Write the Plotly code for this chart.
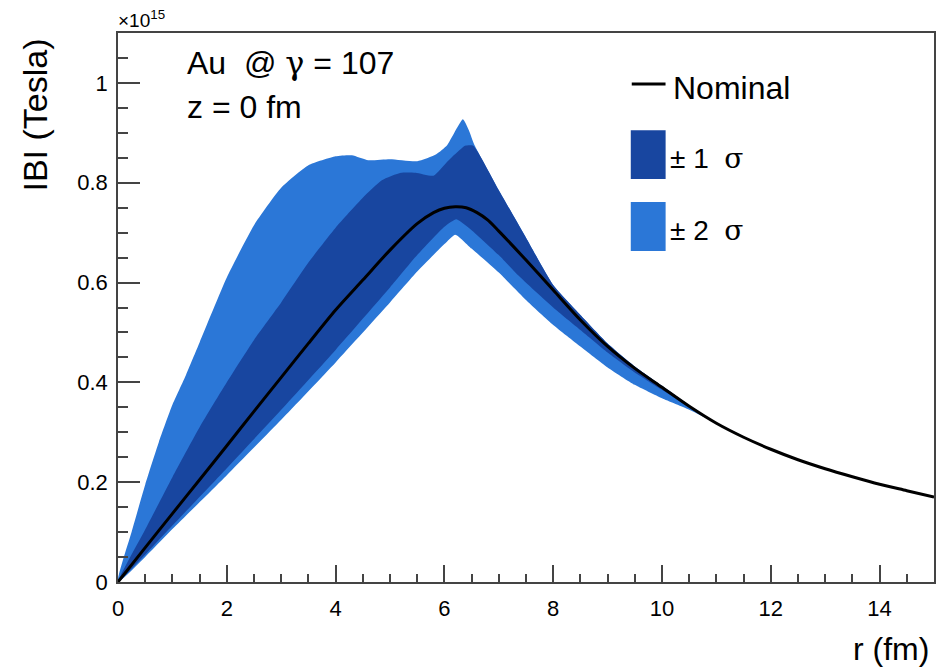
import plotly.graph_objects as go

# ---------------- data (|B| in units of 1e15 Tesla, r in fm) ----------------
r_nom = [0, 0.5, 1, 1.5, 2, 2.5, 3, 3.5, 4, 4.5, 5, 5.5, 5.8, 6.0, 6.2, 6.4, 6.6, 6.8,
         7.0, 7.5, 8, 8.5, 9, 9.5, 10, 10.5, 11, 11.5, 12, 12.5, 13, 13.5, 14, 14.5, 15]
b_nom = [0, 0.069, 0.137, 0.205, 0.273, 0.342, 0.41, 0.478, 0.545, 0.605, 0.665, 0.718,
         0.74, 0.749, 0.752, 0.750, 0.740, 0.725, 0.703, 0.645, 0.585, 0.525, 0.472,
         0.428, 0.39, 0.352, 0.318, 0.29, 0.266, 0.245, 0.227, 0.211, 0.196, 0.183, 0.17]

# +2 sigma (upper edge of light band)
r_up2 = [0, 0.25, 0.5, 0.75, 1.0, 1.25, 1.5, 2.0, 2.5, 3.0, 3.5, 4.0, 4.3, 4.6, 5.0,
         5.5, 5.85, 6.05, 6.34, 6.45, 6.55, 7.0, 7.5, 8.0, 8.5, 9.0, 9.5, 10, 10.5,
         11, 12, 13, 14, 15]
b_up2 = [0, 0.1, 0.195, 0.28, 0.355, 0.415, 0.48, 0.61, 0.715, 0.79, 0.835, 0.853,
         0.855, 0.845, 0.847, 0.843, 0.857, 0.875, 0.927, 0.905, 0.876, 0.785, 0.69,
         0.595, 0.535, 0.478, 0.432, 0.393, 0.354, 0.319, 0.266, 0.227, 0.196, 0.17]

# -2 sigma (lower edge of light band)
r_lo2 = [0, 1, 2, 3, 4, 5, 5.5, 6.0, 6.2, 6.5, 7.0, 7.5, 8.0, 8.5, 9.0, 9.5, 10,
         10.5, 11, 12, 13, 14, 15]
b_lo2 = [0, 0.106, 0.214, 0.325, 0.44, 0.56, 0.622, 0.677, 0.696, 0.668, 0.62, 0.565,
         0.515, 0.472, 0.43, 0.395, 0.368, 0.345, 0.318, 0.265, 0.227, 0.196, 0.17]

# +1 sigma (upper edge of dark band)
r_up1 = [0, 0.5, 1.0, 1.5, 2.0, 2.5, 3.0, 3.5, 4.0, 4.5, 4.85, 5.2, 5.47, 5.8, 6.07,
         6.38, 6.53, 7.0, 7.5, 8.0, 8.5, 9.0, 9.5, 10, 10.5, 11, 12, 13, 14, 15]
b_up1 = [0, 0.105, 0.21, 0.31, 0.40, 0.485, 0.56, 0.64, 0.71, 0.77, 0.805, 0.82, 0.82,
         0.814, 0.844, 0.874, 0.874, 0.785, 0.69, 0.595, 0.535, 0.478, 0.432, 0.393,
         0.354, 0.319, 0.266, 0.227, 0.196, 0.17]

# -1 sigma (lower edge of dark band)
r_lo1 = [0, 1, 2, 3, 4, 5, 5.5, 6.0, 6.22, 6.5, 7.0, 7.35, 8.0, 8.5, 9.0, 9.5, 10,
         10.5, 11, 12, 13, 14, 15]
b_lo1 = [0, 0.113, 0.228, 0.345, 0.465, 0.59, 0.655, 0.712, 0.727, 0.705, 0.655, 0.615,
         0.55, 0.505, 0.46, 0.42, 0.385, 0.35, 0.318, 0.265, 0.227, 0.196, 0.17]

x_ticks = [0, 2, 4, 6, 8, 10, 12, 14]
y_ticks = [0, 0.2, 0.4, 0.6, 0.8, 1.0]
y_ticklabels = ["0", "0.2", "0.4", "0.6", "0.8", "1"]

DARK = "#1846A0"
LIGHT = "#2B77D7"
FONT = "Liberation Sans, Arial, Helvetica, sans-serif"

fig = go.Figure()

# +-2 sigma band
fig.add_trace(go.Scatter(
    x=r_up2 + r_lo2[::-1], y=b_up2 + b_lo2[::-1],
    fill="toself", fillcolor=LIGHT, line=dict(width=0, color=LIGHT, shape="spline", smoothing=0.5),
    mode="lines", showlegend=False, hoverinfo="skip"))
# +-1 sigma band
fig.add_trace(go.Scatter(
    x=r_up1 + r_lo1[::-1], y=b_up1 + b_lo1[::-1],
    fill="toself", fillcolor=DARK, line=dict(width=0, color=DARK, shape="spline", smoothing=0.5),
    mode="lines", showlegend=False, hoverinfo="skip"))
# nominal
fig.add_trace(go.Scatter(
    x=r_nom, y=b_nom, mode="lines",
    line=dict(color="black", width=3, shape="spline", smoothing=0.8),
    showlegend=False))

axis_common = dict(
    showgrid=False, zeroline=False, showline=True, linecolor="#444", linewidth=1.5,
    mirror=True, ticks="inside", tickcolor="#444", tickwidth=1.5,
    tickfont=dict(family=FONT, size=22, color="black"),
)

fig.update_xaxes(
    range=[0, 15], tickvals=x_ticks, ticklen=17,
    minor=dict(dtick=0.5, ticks="inside", ticklen=8, tickcolor="#444", tickwidth=1.5),
    ticklabelstandoff=6,
    **axis_common)
fig.update_yaxes(
    range=[0, 1.1], tickvals=y_ticks, ticktext=y_ticklabels, ticklen=22,
    minor=dict(dtick=0.05, ticks="inside", ticklen=10, tickcolor="#444", tickwidth=1.5),
    ticklabelstandoff=4,
    **axis_common)

# legend drawn manually (ROOT-style)
shapes = [
    dict(type="line", xref="paper", yref="paper", x0=0.6296, x1=0.671, y0=0.907, y1=0.907,
         line=dict(color="black", width=3)),
    dict(type="rect", xref="paper", yref="paper", x0=0.6284, x1=0.6711, y0=0.734, y1=0.823,
         fillcolor=DARK, line=dict(width=0)),
    dict(type="rect", xref="paper", yref="paper", x0=0.6284, x1=0.6711, y0=0.603, y1=0.692,
         fillcolor=LIGHT, line=dict(width=0)),
]

GREEK = '<span style="font-family:DejaVu Serif">%s</span>'
ann = [
    ("Nominal", 0.678, 0.899, 32),
    ("±\u00a01\u00a0\u00a0" + GREEK % "σ", 0.674, 0.772, 28),
    ("±\u00a02\u00a0\u00a0" + GREEK % "σ", 0.674, 0.640, 28),
    ("Au\u00a0\u00a0@\u00a0" + GREEK % "γ" + "\u00a0=\u00a0107", 0.0819, 0.945, 32),
    ("z\u00a0=\u00a00\u00a0fm", 0.0819, 0.865, 32),
]
annotations = []
for text, ax, ay, size in ann:
    annotations.append(dict(
        text=text, x=ax, y=ay, xref="paper", yref="paper",
        xanchor="left", yanchor="middle", showarrow=False,
        font=dict(family=FONT, color="black", size=size)))

annotations += [
    dict(text="IBI (Tesla)", x=-0.1015, y=0.85, xref="paper", yref="paper",
         textangle=-90, xanchor="center", yanchor="middle", showarrow=False,
         font=dict(family=FONT, size=34, color="black")),
    dict(text="r (fm)", x=0.9963, y=-0.122, xref="paper", yref="paper",
         xanchor="right", yanchor="middle", showarrow=False,
         font=dict(family=FONT, size=32, color="black")),
    dict(text="×10<sup>15</sup>", x=-0.002, y=1.0, xref="paper", yref="paper",
         xanchor="left", yanchor="bottom", showarrow=False,
         font=dict(family=FONT, size=19, color="black")),
]

fig.update_layout(
    width=941, height=667,
    margin=dict(l=118, r=5, t=33, b=85),
    paper_bgcolor="white", plot_bgcolor="white",
    shapes=shapes, annotations=annotations,
    font=dict(family=FONT),
)

fig.write_html("out.html", config={"displayModeBar": False},
               post_script="document.body.style.margin='0';")
